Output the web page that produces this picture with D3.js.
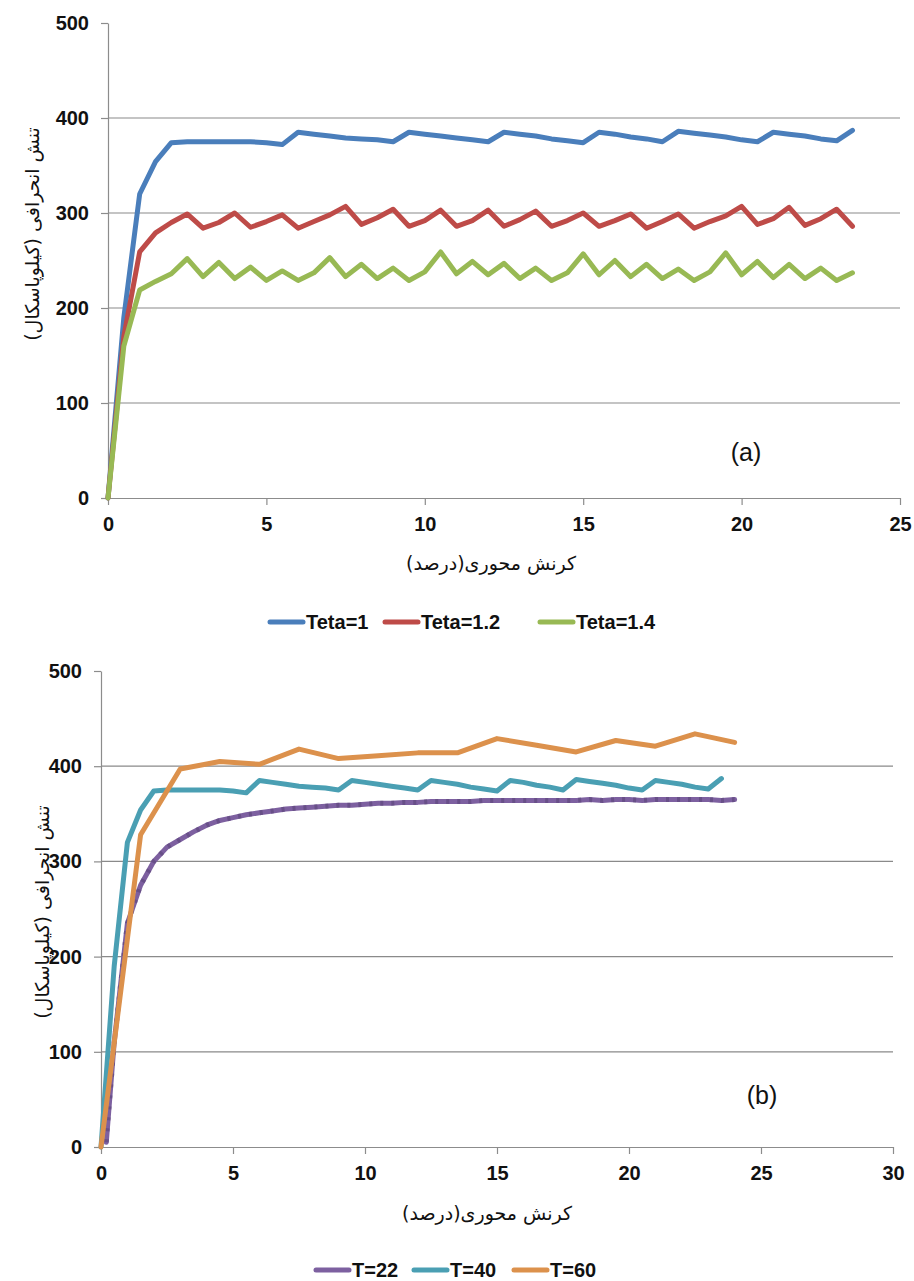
<!DOCTYPE html>
<html><head><meta charset="utf-8">
<script src="https://cdn.jsdelivr.net/npm/d3@7"></script>
<style>
html,body{margin:0;padding:0;background:#fff;}
svg{display:block;}
</style></head>
<body>
<svg id="chart" width="914" height="1281"></svg>
<script>
// ---------- Data: chart (a) ----------
const strainA = [0,0.5,1,1.5,2,2.5,3,3.5,4,4.5,5,5.5,6,6.5,7,7.5,8,8.5,9,9.5,10,10.5,11,11.5,12,12.5,13,13.5,14,14.5,15,15.5,16,16.5,17,17.5,18,18.5,19,19.5,20,20.5,21,21.5,22,22.5,23,23.5];
const teta1 = [0,190,320,354,374,375,375,375,375,375,374,372,385,383,381,379,378,377,375,385,383,381,379,377,375,385,383,381,378,376,374,385,383,380,378,375,386,384,382,380,377,375,385,383,381,378,376,387];
const teta12 = [0,170,259,279,290,299,284,290,300,285,291,298,284,291,298,307,288,295,304,286,292,303,286,292,303,286,293,302,286,292,300,286,292,299,284,291,299,284,291,297,307,288,294,306,287,294,304,286];
const teta14 = [0,160,219,228,236,252,233,248,231,243,229,239,229,237,253,233,246,231,242,229,238,259,236,249,235,247,231,242,229,237,257,235,250,233,246,231,241,229,238,258,235,249,232,246,231,242,229,237];
const seriesNamesA = ["Teta=1","Teta=1.2","Teta=1.4"];

// ---------- Data: chart (b) ----------
const strainT22 = [0.2,0.5,1,1.5,2,2.5,3,3.5,4,4.5,5,5.5,6,6.5,7,7.5,8,8.5,9,9.5,10,10.5,11,11.5,12,12.5,13,13.5,14,14.5,15,15.5,16,16.5,17,17.5,18,18.5,19,19.5,20,20.5,21,21.5,22,22.5,23,23.5,24];
const t22 = [5,110,235,275,300,315,323,331,338,343,346,349,351,353,355,356,357,358,359,359,360,361,361,362,362,363,363,363,363,364,364,364,364,364,364,364,364,365,364,365,365,364,365,365,365,365,365,364,365];
const strainT40 = strainA;
const t40 = [0,190,320,354,374,375,375,375,375,375,374,372,385,383,381,379,378,377,375,385,383,381,379,377,375,385,383,381,378,376,374,385,383,380,378,375,386,384,382,380,377,375,385,383,381,378,376,387];
const strainT60 = [0,1.5,3,4.5,6,7.5,9,10.5,12,13.5,15,16.5,18,19.5,21,22.5,24];
const t60 = [0,328,397,405,402,418,408,411,414,414,429,422,415,427,421,434,425];
const seriesNamesB = ["T=22","T=40","T=60"];

// ---------- Axis ticks / labels ----------
const yTicks = [0,100,200,300,400,500];
const xTicksA = [0,5,10,15,20,25];
const xTicksB = [0,5,10,15,20,25,30];
const yTitle = "تنش انحرافی (کیلوپاسکال)";
const xTitle = "کرنش محوری(درصد)";

const colorsA = ["#4A7EBB","#BE4B48","#98B954"];
const colorsB = ["#7D60A0","#4A9FB3","#DC914C"];

const svg = d3.select("#chart");
const axisColor = "#8c8c8c";
const gridColor = "#8a8a8a";
const tickFont = "'Liberation Sans', Arial, sans-serif";
const faFont = "'DejaVu Sans', sans-serif";

function drawPanel(cfg){
  const x = d3.scaleLinear().domain(cfg.xDomain).range([cfg.left, cfg.right]);
  const y = d3.scaleLinear().domain([0,500]).range([cfg.bottom, cfg.top]);
  const g = svg.append("g");

  g.selectAll(".grid").data(yTicks.filter(d=>d>0 && d<500)).join("line")
    .attr("x1", cfg.left).attr("x2", cfg.right)
    .attr("y1", d=>y(d)).attr("y2", d=>y(d))
    .attr("stroke", gridColor).attr("stroke-width", 1.2);

  const ya = d3.axisLeft(y).tickValues(yTicks).tickSize(7).tickSizeOuter(0).tickPadding(12);
  const yg = g.append("g").attr("transform", `translate(${cfg.left},0)`).call(ya);
  yg.select(".domain").attr("stroke", axisColor).attr("stroke-width", 1.2);
  yg.selectAll(".tick line").attr("stroke", axisColor).attr("stroke-width", 1.2);
  yg.selectAll(".tick text").attr("font-family", tickFont).attr("font-weight", "bold")
    .attr("font-size", 20).attr("fill", "#111");

  const xa = d3.axisBottom(x).tickValues(cfg.xTicks).tickSize(7).tickSizeOuter(0).tickPadding(12).tickFormat(d3.format("d"));
  const xg = g.append("g").attr("transform", `translate(0,${cfg.bottom})`).call(xa);
  xg.select(".domain").attr("stroke", axisColor).attr("stroke-width", 1.2);
  xg.selectAll(".tick line").attr("stroke", axisColor).attr("stroke-width", 1.2);
  xg.selectAll(".tick text").attr("font-family", tickFont).attr("font-weight", "bold")
    .attr("font-size", 20).attr("fill", "#111");

  const line = d3.line().x(d=>x(d[0])).y(d=>y(d[1]));
  cfg.series.forEach((s,i)=>{
    const pts = s.xs.map((v,j)=>[v, s.ys[j]]);
    g.append("path").datum(pts).attr("d", line)
      .attr("fill","none").attr("stroke", cfg.colors[i]).attr("stroke-width", 5)
      .attr("stroke-linejoin","round").attr("stroke-linecap","round");
    if (s.texture) {
      g.append("path").datum(pts).attr("d", line)
        .attr("fill","none").attr("stroke", s.texture).attr("stroke-width", 5)
        .attr("stroke-dasharray","3,8").attr("stroke-opacity",0.6)
        .attr("stroke-linejoin","round");
    }
  });

  g.append("text").attr("x", cfg.letterX).attr("y", cfg.letterY)
    .attr("text-anchor","middle").attr("font-family", tickFont)
    .attr("font-size", 25).attr("fill","#111").text(cfg.letter);

  g.append("text")
    .attr("transform", `translate(${cfg.yTitleX},${cfg.yTitleY}) rotate(-90)`)
    .attr("text-anchor","middle").attr("dominant-baseline","middle")
    .attr("font-family", faFont).attr("font-size", 19).attr("fill","#111")
    .attr("direction","rtl")
    .text(yTitle);

  g.append("text").attr("x", cfg.xTitleX).attr("y", cfg.xTitleY)
    .attr("text-anchor","middle").attr("dominant-baseline","middle")
    .attr("font-family", faFont).attr("font-size", 19).attr("fill","#111")
    .attr("direction","rtl")
    .text(xTitle);

  cfg.legend.forEach((item,i)=>{
    g.append("line").attr("x1", item.x).attr("x2", item.x+33)
      .attr("y1", cfg.legendY).attr("y2", cfg.legendY)
      .attr("stroke", cfg.colors[i]).attr("stroke-width", 5).attr("stroke-linecap","round");
    g.append("text").attr("x", item.x+36).attr("y", cfg.legendY)
      .attr("dominant-baseline","central")
      .attr("font-family", tickFont).attr("font-weight","bold").attr("font-size", 20)
      .attr("fill","#111").text(cfg.names[i]);
  });
}

drawPanel({
  xDomain:[0,25], left:108, right:900, top:23, bottom:498,
  xTicks: xTicksA, colors: colorsA, names: seriesNamesA,
  series:[{xs:strainA, ys:teta1},{xs:strainA, ys:teta12},{xs:strainA, ys:teta14}],
  letter:"(a)", letterX:746, letterY:461,
  yTitleX:33, yTitleY:234, xTitleX:491, xTitleY:564,
  legendY:622, legend:[{x:270},{x:385},{x:540}]
});

drawPanel({
  xDomain:[0,30], left:101, right:893, top:671, bottom:1147,
  xTicks: xTicksB, colors: colorsB, names: seriesNamesB,
  series:[{xs:strainT22, ys:t22, texture:"#5a4578"},{xs:strainT40, ys:t40},{xs:strainT60, ys:t60}],
  letter:"(b)", letterX:762, letterY:1104,
  yTitleX:43, yTitleY:912, xTitleX:487, xTitleY:1214,
  legendY:1270, legend:[{x:316},{x:414},{x:514}]
});
</script>
</body></html>
